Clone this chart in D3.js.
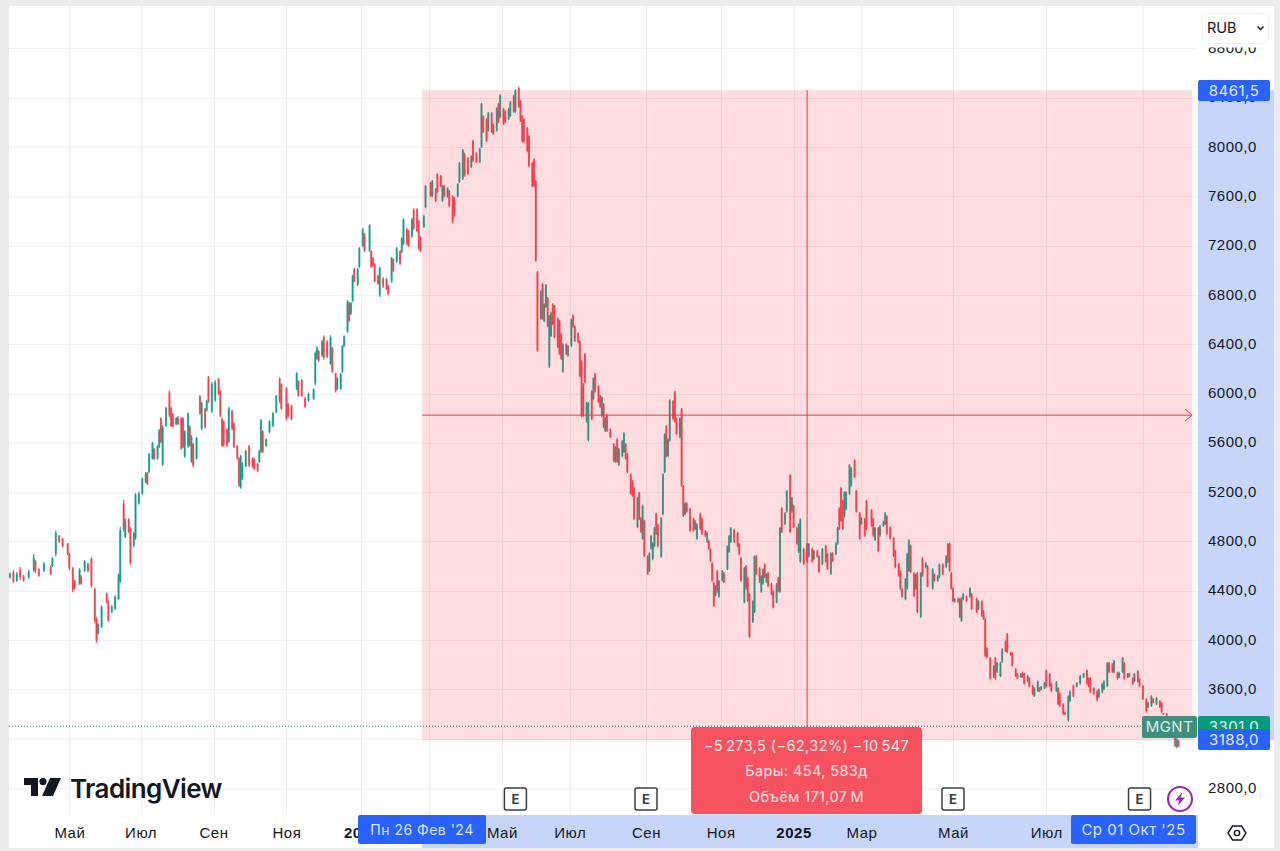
<!DOCTYPE html>
<html>
<head lang="ru">
    <meta charset="utf-8">
    <title>MGNT</title>
    <style type="text/css">
        html, body { margin: 0; padding: 0; background: #ececec; }
        svg { display: block; font-family: Inter, "Noto Sans", sans-serif; }
        .tick text { fill: #131722; font-size: 15px; letter-spacing: 0.5px; }
    </style>
    <script src="https://cdn.jsdelivr.net/npm/d3@7"></script>
</head>
<body>
<div id="chart"></div>
<script type="text/javascript">
    // свечи: [бар, open, high, low, close]
    const spring2023 = [
        [0,4500,4540,4490,4530],[2,4540,4560,4455,4470],[4,4470,4545,4465,4530],[6,4560,4585,4480,4500],[8,4510,4520,4465,4475],[11,4500,4560,4490,4545],[14,4560,4690,4545,4660],[15,4630,4640,4535,4555],[17,4570,4575,4505,4515],[20,4555,4625,4545,4610],[24,4585,4595,4520,4530],[25,4590,4665,4585,4655],[27,4690,4880,4670,4860],[29,4840,4845,4780,4790],[31,4815,4820,4745,4755],[34,4775,4780,4680,4690],[35,4690,4700,4560,4575],[37,4575,4585,4380,4400],[38,4470,4480,4400,4410],[41,4450,4575,4440,4560],[42,4510,4520,4440,4450],[44,4555,4640,4545,4630],[46,4610,4620,4545,4555],[48,4650,4665,4415,4430],[50,4405,4415,4130,4150],[51,4165,4180,3970,3990],[52,4045,4130,4035,4120],[54,4100,4275,4090,4260],[57,4365,4375,4290,4300],[58,4300,4315,4140,4150],[60,4220,4275,4210,4265],[62,4245,4355,4235,4345],[64,4325,4535,4315,4520]
    ];
    const summer2023 = [
        [65,4470,4910,4455,4880],[67,5100,5130,4870,4890],[68,4830,4980,4820,4960],[70,4970,4980,4860,4870],[71,4895,4910,4600,4620],[73,4760,4870,4745,4860],[74,4820,5185,4805,5170],[76,5100,5195,5090,5180],[78,5180,5310,5170,5300],[80,5270,5355,5265,5340],[81,5345,5355,5250,5260],[82,5355,5510,5345,5500],[84,5465,5600,5455,5590],[85,5545,5550,5455,5465],[87,5465,5575,5455,5560],[88,5560,5705,5550,5695],[89,5790,5800,5590,5600],[90,5415,5735,5405,5720],[92,5730,5885,5720,5875],[94,6000,6015,5800,5815],[95,5875,5885,5720,5730],[96,5825,5835,5720,5730],[98,5745,5800,5735,5795],[99,5800,5810,5735,5745],[101,5790,5800,5535,5545],[102,5790,5800,5550,5560],[103,5480,5695,5470,5685],[105,5565,5840,5550,5830],[106,5725,5735,5560,5570],[107,5440,5655,5430,5640],[108,5580,5590,5395,5410],[110,5465,5640,5455,5630],[112,5970,5980,5820,5830],[113,5705,5925,5695,5915],[115,5865,5875,5710,5720],[116,5855,5940,5845,5930],[117,6120,6135,5915,5930],[119,5850,6085,5835,6070],[121,5935,6100,5925,6085],[123,6110,6120,5980,5990],[124,6010,6020,5800,5815]
    ];
    const autumn2023 = [
        [125,5785,5795,5560,5570],[126,5765,5775,5560,5575],[128,5700,5710,5560,5570],[129,5600,5885,5590,5870],[131,5850,5860,5695,5710],[132,5750,5760,5550,5560],[134,5565,5575,5455,5465],[135,5465,5475,5235,5245],[136,5230,5495,5220,5485],[137,5300,5435,5290,5425],[139,5405,5535,5395,5525],[141,5565,5575,5395,5410],[143,5465,5475,5390,5400],[144,5460,5470,5370,5380],[146,5420,5430,5355,5365],[147,5440,5535,5430,5525],[148,5520,5785,5510,5775],[149,5685,5695,5510,5520],[151,5570,5630,5560,5620],[153,5680,5775,5670,5765],[155,5730,5840,5720,5830],[157,5845,5980,5835,5970],[159,6110,6125,5915,5930],[160,6065,6075,5860,5870],[163,6035,6045,5775,5790],[164,5905,5915,5800,5810],[166,5890,5900,5775,5785],[169,6030,6165,6020,6155],[170,6090,6100,5965,5975],[172,6100,6110,5965,5975],[174,5955,5965,5875,5885],[176,5935,6000,5925,5990],[179,5950,6035,5940,6025]
    ];
    const winter2024 = [
        [180,6075,6335,6060,6320],[181,6275,6375,6265,6365],[182,6335,6345,6250,6260],[184,6300,6425,6290,6415],[185,6450,6465,6265,6280],[187,6415,6425,6280,6290],[189,6235,6465,6225,6450],[190,6360,6370,6160,6170],[192,6150,6160,6000,6010],[193,6030,6125,6020,6115],[195,6030,6160,6020,6150],[196,6170,6385,6160,6375],[197,6380,6465,6370,6455],[199,6495,6750,6485,6740],[200,6725,6735,6570,6585],[201,6640,6735,6630,6725],[202,6745,6955,6735,6945],[203,7000,7010,6895,6905],[205,6875,7010,6865,7000],[206,7020,7180,7010,7170],[208,7190,7335,7180,7325],[209,7285,7295,7140,7150],[212,7155,7365,7140,7355],[213,7145,7155,7010,7020],[214,7090,7100,7020,7030],[215,7040,7050,6895,6905],[217,6945,6955,6875,6885],[218,6790,7020,6775,7010],[220,6925,6935,6850,6860],[222,6920,6930,6830,6840],[223,6865,6875,6790,6800],[225,6900,7100,6890,7090],[226,7080,7090,6980,6990],[228,7060,7180,7050,7170],[230,7145,7155,7035,7045],[231,7140,7260,7130,7250],[232,7205,7415,7195,7405],[234,7325,7335,7195,7205],[235,7310,7320,7180,7190],[237,7265,7415,7255,7405],[238,7485,7495,7320,7330],[240,7485,7495,7300,7310],[241,7390,7400,7155,7170],[242,7260,7270,7140,7150]
    ];
    const spring2024 = [
        [244,7345,7440,7335,7430],[245,7505,7685,7495,7675],[248,7700,7710,7585,7595],[249,7595,7725,7585,7715],[251,7650,7660,7545,7555],[252,7770,7780,7620,7630],[254,7755,7765,7665,7675],[255,7555,7685,7545,7675],[256,7675,7685,7585,7595],[258,7590,7665,7580,7655],[259,7635,7645,7505,7515],[261,7590,7600,7375,7390],[262,7575,7585,7425,7435],[264,7595,7700,7585,7690],[265,7710,7870,7700,7860],[267,7735,7975,7725,7965],[268,7935,7945,7750,7760],[270,7900,7910,7765,7775],[272,7830,7925,7820,7915],[273,8040,8050,7870,7880],[275,7940,7950,7860,7870],[277,7870,7985,7860,7975],[278,7995,8350,7985,8340],[279,8240,8250,8105,8115],[281,8215,8225,8030,8040],[282,8125,8275,8115,8265],[284,8265,8275,8105,8115],[285,8175,8185,8090,8100],[287,8125,8315,8115,8305],[288,8340,8350,8185,8195],[289,8235,8420,8225,8410],[291,8300,8310,8170,8180],[292,8280,8290,8185,8195],[294,8220,8310,8210,8300],[295,8245,8365,8235,8355],[297,8405,8415,8270,8280],[298,8280,8460,8270,8450],[300,8470,8480,8310,8320]
    ];
    const drop2024 = [
        [301,8365,8375,8195,8205],[302,8240,8250,8030,8040],[303,8215,8225,8025,8035],[305,8145,8155,7950,7960],[306,8080,8090,7830,7840],[308,7860,7870,7665,7675],[309,7890,7900,7665,7680],[310,7715,7725,7060,7070],[311,6975,6985,6330,6345],[313,6600,6830,6590,6820],[314,6880,6890,6590,6600],[315,6580,6725,6570,6715],[316,6695,6880,6685,6870],[317,6765,6775,6530,6540],[318,6215,6630,6200,6620],[319,6460,6655,6450,6645],[320,6715,6725,6545,6555],[321,6700,6710,6440,6450],[323,6600,6610,6360,6370],[324,6580,6590,6305,6315],[325,6475,6485,6265,6275],[326,6170,6400,6160,6390],[328,6390,6400,6305,6315],[329,6300,6385,6290,6375],[331,6380,6600,6370,6590],[332,6625,6635,6525,6535],[333,6535,6545,6410,6420],[335,6480,6490,6400,6410],[336,6415,6425,6125,6135],[337,6255,6265,5800,5815],[338,6065,6075,5800,5810],[339,6310,6320,6075,6085],[340,5765,5925,5755,5915],[341,5615,5925,5605,5915],[343,6010,6020,5775,5785],[344,5950,6125,5940,6115],[345,6150,6160,6000,6010],[347,6050,6060,5915,5925],[348,5970,5980,5875,5885],[349,5810,5970,5800,5960],[350,5905,5915,5710,5720],[351,5690,5800,5680,5790],[352,5815,5825,5680,5690],[354,5700,5710,5630,5640],[356,5580,5590,5435,5445],[357,5440,5565,5430,5555],[358,5620,5630,5430,5440],[359,5415,5550,5405,5540],[361,5485,5615,5475,5605],[362,5520,5680,5510,5670],[363,5580,5590,5455,5465],[364,5500,5510,5345,5355],[366,5335,5345,5170,5180],[367,5280,5290,5155,5165],[368,5225,5235,4965,4975],[370,4910,5155,4900,5145],[371,5185,5195,4965,4975],[372,4980,4990,4860,4870],[373,4815,5090,4805,5080],[374,4955,4965,4665,4675],[376,4670,4680,4520,4530]
    ];
    const autumn2024 = [
        [377,4555,4705,4545,4695],[378,4735,4845,4725,4835],[379,4650,4785,4640,4775],[380,4755,4910,4745,4900],[381,5015,5025,4845,4855],[382,4930,4940,4745,4755],[384,4670,4990,4660,4980],[385,5015,5345,5005,5335],[386,5355,5670,5345,5660],[387,5725,5735,5475,5485],[388,5485,5630,5475,5620],[389,5610,5945,5600,5935],[391,5930,5940,5775,5785],[392,6005,6015,5755,5765],[393,5790,5800,5655,5665],[395,5640,5800,5630,5790],[396,5865,5875,5235,5245],[397,5240,5250,4990,5000],[398,5015,5110,5005,5100],[399,5100,5110,5025,5035],[401,5055,5065,4870,4880],[403,4975,4985,4870,4880],[404,4895,4965,4885,4955],[405,4815,4940,4805,4930],[407,5015,5025,4885,4895],[408,4975,4985,4845,4855],[410,4875,4885,4830,4840],[411,4790,4870,4780,4860],[412,4795,4805,4725,4735],[413,4730,4740,4625,4635],[414,4615,4625,4465,4475],[415,4455,4465,4260,4270],[416,4355,4440,4345,4430],[417,4550,4560,4375,4385],[418,4345,4480,4335,4470],[420,4475,4560,4465,4550],[421,4535,4545,4455,4465],[423,4570,4760,4560,4750],[424,4710,4845,4700,4835],[425,4790,4910,4780,4900],[427,4885,4895,4780,4790],[429,4860,4870,4745,4755],[430,4770,4780,4680,4690],[431,4655,4665,4465,4475],[433,4300,4585,4290,4575],[434,4590,4600,4400,4410],[435,4495,4505,4300,4310],[436,4365,4375,4010,4020],[438,4140,4315,4130,4305],[439,4220,4680,4210,4670],[440,4670,4680,4520,4530],[442,4575,4585,4455,4465],[443,4385,4520,4375,4510],[444,4450,4575,4440,4565],[445,4605,4615,4495,4505],[446,4465,4535,4455,4525],[447,4535,4545,4420,4430],[449,4445,4455,4355,4365],[450,4390,4400,4250,4260],[452,4300,4455,4290,4445],[453,4495,4505,4380,4390]
    ];
    const winter2025 = [
        [454,4385,4910,4375,4900],[455,5060,5070,4860,4870],[457,4935,5030,4925,5020],[458,5035,5210,5025,5200],[460,5330,5340,4860,4870],[461,5035,5155,5025,5145],[462,5080,5090,4900,4910],[464,4900,4910,4765,4775],[465,4710,4940,4700,4930],[466,4630,4980,4620,4970],[468,4730,4740,4600,4610],[470,4770,4780,4620,4630],[471,4670,4780,4660,4770],[473,4730,4740,4620,4630],[474,4650,4725,4640,4715],[476,4715,4725,4660,4670],[477,4670,4680,4535,4545],[479,4610,4740,4600,4730],[481,4755,4765,4620,4630],[482,4690,4700,4560,4570],[484,4530,4705,4520,4695],[485,4695,4705,4625,4635],[487,4690,4785,4680,4775],[488,4775,4910,4765,4900],[489,5060,5070,4885,4895],[490,5225,5235,4950,4960],[491,5120,5130,4885,4895],[492,4995,5200,4985,5190],[493,5055,5200,5045,5190],[495,5180,5420,5170,5410],[496,5245,5395,5235,5385],[498,5450,5460,5305,5315],[499,5200,5210,5025,5035],[501,5020,5030,4805,4815],[502,4935,4990,4925,4980],[504,4975,4985,4830,4840],[505,5120,5130,4885,4895],[508,5045,5055,4910,4920],[509,4975,4985,4830,4840],[510,4805,4910,4795,4900],[512,4900,4910,4705,4715],[513,4840,4925,4830,4915],[515,4920,4960,4910,4950],[516,4935,5030,4925,5020],[517,4995,5005,4845,4855]
    ];
    const spring2025 = [
        [519,4905,4915,4805,4815],[521,4820,4830,4665,4675],[522,4715,4725,4575,4585],[524,4610,4620,4505,4515],[525,4550,4560,4400,4410],[526,4405,4415,4335,4345],[528,4325,4495,4315,4485],[529,4410,4700,4400,4690],[530,4555,4810,4545,4800],[531,4755,4765,4535,4545],[533,4535,4545,4340,4350],[534,4410,4530,4400,4520],[535,4535,4545,4210,4220],[537,4180,4545,4170,4535],[538,4655,4665,4505,4515],[540,4585,4625,4575,4615],[541,4590,4600,4420,4430],[544,4410,4575,4400,4565],[545,4525,4535,4465,4475],[547,4475,4520,4465,4510],[548,4505,4615,4495,4605],[550,4605,4615,4520,4530],[552,4585,4680,4575,4670],[553,4770,4780,4615,4625],[554,4775,4785,4545,4555],[555,4535,4545,4400,4410],[556,4410,4420,4300,4310],[557,4305,4335,4295,4325],[559,4325,4335,4295,4305],[560,4325,4335,4170,4180],[561,4150,4340,4140,4330],[562,4325,4375,4315,4365],[564,4345,4355,4300,4310],[566,4345,4420,4335,4410],[567,4365,4375,4235,4245],[570,4325,4335,4210,4220],[571,4245,4315,4235,4305],[573,4305,4315,4180,4190],[574,4225,4235,4155,4165],[575,4160,4170,3855,3865],[576,3925,3935,3845,3855],[578,3845,3855,3670,3680],[580,3695,3790,3685,3780],[581,3845,3855,3670,3680],[582,3735,3815,3725,3805],[584,3700,3815,3690,3805],[585,3815,3925,3805,3915],[587,3980,3990,3895,3905],[588,4040,4050,3885,3895]
    ];
    const summer2025 = [
        [590,3890,3895,3865,3870],[591,3885,3895,3775,3785],[593,3755,3765,3690,3700],[594,3720,3725,3675,3680],[596,3690,3725,3685,3720],[597,3725,3735,3685,3695],[598,3720,3725,3630,3640],[600,3660,3710,3650,3700],[601,3685,3690,3610,3615],[603,3620,3630,3545,3555],[604,3540,3610,3530,3600],[606,3580,3665,3570,3655],[607,3605,3610,3570,3575],[608,3590,3620,3585,3615],[610,3600,3650,3595,3645],[611,3745,3755,3610,3620],[613,3715,3725,3610,3620],[614,3635,3645,3570,3580],[617,3580,3660,3570,3650],[618,3600,3610,3465,3475],[619,3555,3565,3450,3460],[621,3470,3480,3385,3395],[622,3405,3410,3385,3390],[624,3345,3545,3330,3535],[625,3500,3585,3490,3575],[627,3620,3630,3530,3540],[629,3615,3650,3610,3645],[631,3640,3710,3630,3700],[633,3690,3725,3685,3720],[635,3745,3755,3630,3640],[636,3680,3690,3610,3620],[637,3680,3690,3560,3570],[639,3600,3610,3545,3555],[641,3575,3585,3495,3505],[642,3530,3600,3520,3590],[644,3570,3645,3560,3635],[645,3595,3665,3585,3655],[647,3620,3815,3610,3805],[648,3805,3815,3725,3735],[650,3795,3805,3725,3735],[651,3735,3830,3725,3820],[653,3725,3735,3670,3680],[654,3690,3735,3685,3725],[656,3735,3855,3725,3845],[657,3805,3815,3670,3680],[659,3690,3725,3685,3720],[660,3720,3725,3690,3695],[662,3680,3690,3630,3635],[663,3660,3725,3650,3715],[665,3740,3750,3645,3655],[666,3675,3685,3610,3620],[668,3620,3630,3505,3515],[670,3510,3520,3405,3415],[671,3445,3490,3440,3485],[673,3460,3545,3450,3535],[674,3515,3520,3480,3485],[676,3475,3530,3465,3520],[678,3495,3505,3440,3450],[679,3480,3490,3400,3410],[680,3395,3400,3385,3390],[682,3395,3400,3375,3380],[684,3370,3375,3305,3310],[686,3300,3305,3200,3205],[687,3200,3205,3125,3135],[688,3125,3195,3115,3190],[689,3175,3180,3125,3135]
    ];

    // оси, пустые подписи закрыты плашками
    const priceTicks = [2800, 3200, 3600, 4000, 4400, 4800, 5200, 5600, 6000, 6400, 6800, 7200, 7600, 8000, 8400, 8800];
    const priceHidden = [3200];
    const timeTicks = [35, 77, 120, 163, 207, 247, 290, 330, 375, 419, 462, 502, 556, 611, 668];
    const timeLabels = ["Май", "Июл", "Сен", "Ноя", "2024", "", "Май", "Июл", "Сен", "Ноя", "2025", "Мар", "Май", "Июл", ""];

    // измерение: от 26 фев '24 до 01 окт '25
    const startBar = 243, endBar = 697;
    const startPrice = 8461.5, endPrice = 3188, midPrice = 5824.75;
    const measureMidBar = 470;
    const lastPrice = 3301;
    const earningsBars = [298, 375, 556, 666];
    const measureLines = ["\u22125\u2009273,5 (\u221262,32%) \u221210\u2009547", "Бары: 454, 583д", "Объём 171,07\u2009M"];

    const up = "#089981", down = "#f23645", blue = "#2962ff", axisBlue = "#c8d5fb", grid = "#f0f1f4";
    const candles = [].concat(spring2023, summer2023, autumn2023, winter2024, spring2024, drop2024, autumn2024, winter2025, spring2025, summer2025);

    const W = 1280, H = 851;
    const plotLeft = 9, plotRight = 1198, axisRight = 1274, plotBottom = 815, axisBottom = 848;
    const lay = 1; // сетка и зона измерения на пиксель ниже подписей

    const svg = d3.select("#chart").append("svg").attr("width", W).attr("height", H);
    const x = d3.scaleLinear().domain([0, 700]).range([10, 1197.2]);
    const y = d3.scaleLinear().domain([2800, 8000]).range([787, 146]);

    //белая подложка
    svg.append("rect").attr("x", plotLeft).attr("y", 6).attr("width", axisRight - plotLeft).attr("height", axisBottom - 6).attr("fill", "#fff");

    //сетка
    const gridG = svg.append("g").attr("stroke", grid).attr("stroke-width", 1);
    gridG.selectAll("line.h").data(priceTicks).enter().append("line").attr("class", "h")
        .attr("x1", plotLeft).attr("x2", plotRight)
        .attr("y1", d => Math.round(y(d)) + lay + 0.5).attr("y2", d => Math.round(y(d)) + lay + 0.5);
    gridG.selectAll("line.v").data(timeTicks).enter().append("line").attr("class", "v")
        .attr("y1", 6).attr("y2", plotBottom)
        .attr("x1", d => Math.round(x(d)) + 0.5).attr("x2", d => Math.round(x(d)) + 0.5);

    //свечи
    const candleG = svg.append("g");
    candleG.selectAll("line").data(candles).enter().append("line")
        .attr("x1", d => x(d[0])).attr("x2", d => x(d[0]))
        .attr("y1", d => y(d[2])).attr("y2", d => y(d[3]))
        .attr("stroke", d => d[4] >= d[1] ? up : down)
        .attr("stroke-width", 1.3)
        .attr("stroke-opacity", 0.85);
    candleG.selectAll("rect").data(candles).enter().append("rect")
        .attr("x", d => x(d[0]) - 1).attr("width", 2)
        .attr("y", d => y(Math.max(d[1], d[4])))
        .attr("height", d => Math.abs(y(d[1]) - y(d[4])))
        .attr("fill", d => d[4] >= d[1] ? up : down)
        .attr("fill-opacity", 0.72);

    //зона измерения
    const xStart = x(startBar), xEnd = x(endBar);
    const zoneTop = y(startPrice) + lay, zoneBottom = y(endPrice) + lay;
    svg.append("rect").attr("x", xStart).attr("y", zoneTop).attr("width", xEnd - xStart)
        .attr("height", zoneBottom - zoneTop).attr("fill", down).attr("fill-opacity", 0.17);

    //подсветка на осях
    svg.append("rect").attr("x", plotRight).attr("y", zoneTop).attr("width", axisRight - plotRight)
        .attr("height", zoneBottom - zoneTop).attr("fill", axisBlue);
    svg.append("rect").attr("x", xStart).attr("y", plotBottom).attr("width", plotRight - xStart)
        .attr("height", axisBottom - plotBottom).attr("fill", axisBlue);

    //линии измерения
    const midY = y(midPrice) + lay, midX = x(measureMidBar);
    svg.append("line").attr("x1", xStart).attr("x2", xEnd).attr("y1", midY).attr("y2", midY).attr("stroke", down).attr("stroke-width", 1);
    svg.append("path").attr("d", `M${xEnd - 7},${midY - 6}L${xEnd},${midY}L${xEnd - 7},${midY + 6}`)
        .attr("fill", "none").attr("stroke", down).attr("stroke-width", 1);
    svg.append("line").attr("x1", midX).attr("x2", midX).attr("y1", zoneTop).attr("y2", zoneBottom).attr("stroke", down).attr("stroke-width", 1);

    //пунктир последней цены
    svg.append("line").attr("x1", plotLeft).attr("x2", 1142).attr("y1", y(lastPrice) + lay).attr("y2", y(lastPrice) + lay)
        .attr("stroke", "#1f6f5f").attr("stroke-width", 1).attr("stroke-dasharray", "1 2");

    //ось цен
    const yAxis = d3.axisRight(y).tickValues(priceTicks).tickSize(0).tickPadding(0)
        .tickFormat(d => priceHidden.includes(d) ? "" : d + ",0");
    const yG = svg.append("g").attr("transform", `translate(${plotRight + 10},0)`).call(yAxis);
    yG.select(".domain").remove();
    yG.selectAll(".tick text").attr("dy", "0.34em");

    //ось времени
    const xAxis = d3.axisBottom(x).tickValues(timeTicks).tickSize(0).tickPadding(0)
        .tickFormat((d, i) => timeLabels[i]);
    const xG = svg.append("g").attr("transform", `translate(0,${plotBottom + 12})`).call(xAxis);
    xG.select(".domain").remove();
    xG.selectAll(".tick text").style("font-weight", (d, i) => /^\d/.test(timeLabels[i]) ? 700 : 400);

    //подпись-плашка
    function badge(bx, by, bw, bh, fill, label, color, size) {
        svg.append("rect").attr("x", bx).attr("y", by).attr("width", bw).attr("height", bh).attr("rx", 2).attr("fill", fill);
        svg.append("text").attr("x", bx + bw / 2).attr("y", by + bh / 2).attr("dy", "0.36em")
            .attr("text-anchor", "middle").attr("fill", color || "#fff")
            .style("font-size", (size || 15) + "px").style("letter-spacing", "0.5px").text(label);
    }

    badge(1142, 716, 55, 22, "#3f8f7f", "MGNT", "#dfeeea");
    badge(1198, 716, 72, 22, "#0b9a7f", "3301,0", "#e6f5f1");
    badge(1198, 729, 72, 21, blue, "3188,0", "#e3e9ff");
    badge(1198, 80, 72, 21, blue, "8461,5", "#e3e9ff");
    badge(358, 815, 128, 29, blue, "Пн 26 Фев '24", "#dbe4ff", 14);
    badge(1071, 815, 125, 29, blue, "Ср 01 Окт '25", "#dbe4ff");

    //окно измерения
    svg.append("rect").attr("x", 691).attr("y", 727).attr("width", 231).attr("height", 87).attr("rx", 4).attr("fill", "#f7525f");
    svg.selectAll("text.measure").data(measureLines).enter().append("text").attr("class", "measure")
        .attr("x", 806.5).attr("y", (d, i) => 750.5 + i * 25.5)
        .attr("text-anchor", "middle").attr("fill", "#fde4e6")
        .style("font-size", "14.5px").style("letter-spacing", "0.4px").text(d => d);

    //значки отчётности
    const eG = svg.append("g").selectAll("g").data(earningsBars).enter().append("g")
        .attr("transform", d => `translate(${x(d)},799)`);
    eG.append("rect").attr("x", -11).attr("y", -11).attr("width", 22).attr("height", 22).attr("rx", 2)
        .attr("fill", "#fff").attr("stroke", "#3a3d45").attr("stroke-width", 1.5);
    eG.append("text").attr("text-anchor", "middle").attr("dy", "0.36em").attr("fill", "#3a3d45")
        .style("font-size", "13px").style("font-weight", 700).text("E");

    //молния
    const bolt = svg.append("g").attr("transform", "translate(1180,799)");
    bolt.append("circle").attr("r", 12).attr("fill", "#fff").attr("stroke", "#9c27b0").attr("stroke-width", 2);
    bolt.append("path").attr("d", "M2.5,-7L-5,1.5H-0.5L-2.5,7L5,-1.5H0.5Z").attr("fill", "#9c27b0");

    //шестигранник настроек
    const gear = svg.append("g").attr("transform", "translate(1237,833)").attr("fill", "none").attr("stroke", "#131722").attr("stroke-width", 1.4);
    gear.append("path").attr("d", "M-9,0L-4.5,-7H4.5L9,0L4.5,7H-4.5Z");
    gear.append("circle").attr("r", 2.6);

    //переключатель валюты, белый ореол срезает верх 8800
    svg.append("rect").attr("x", 1198).attr("y", 6).attr("width", 76).attr("height", 41.5).attr("fill", "#fff");
    svg.append("rect").attr("x", 1202.5).attr("y", 13.5).attr("width", 66).attr("height", 30).attr("rx", 5)
        .attr("fill", "#fff").attr("stroke", "#eef0f3");
    svg.append("text").attr("x", 1207).attr("y", 33).attr("fill", "#131722").style("font-size", "14.5px").text("RUB");
    svg.append("path").attr("d", "M1257.5,26.5l3,3l3,-3").attr("fill", "none").attr("stroke", "#131722").attr("stroke-width", 1.5);

    //логотип
    const logo = svg.append("g").attr("transform", "translate(24,778)").attr("fill", "#131722");
    logo.append("path").attr("d", "M0,0H14V18H7V7H0Z");
    logo.append("circle").attr("cx", 19).attr("cy", 3.6).attr("r", 3.6);
    logo.append("path").attr("d", "M26,0H37L29,18H18Z");
    svg.append("text").attr("x", 70).attr("y", 798).attr("fill", "#131722")
        .style("font-size", "26px").style("font-weight", 600).style("letter-spacing", "-0.6px").text("TradingView");
</script>
</body>
</html>
